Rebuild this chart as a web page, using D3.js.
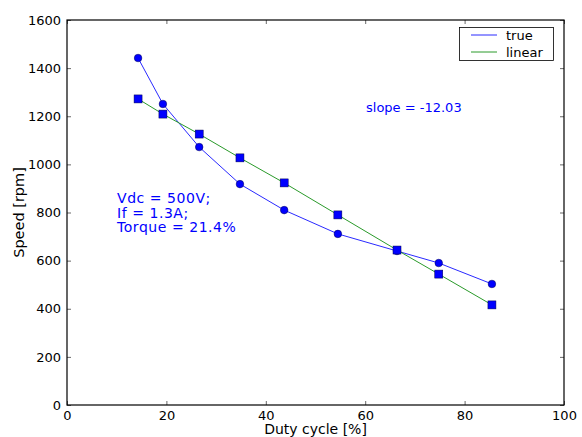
<!DOCTYPE html>
<html><head><meta charset="utf-8">
<script src="https://cdn.jsdelivr.net/npm/d3@7"></script>
<style>body{margin:0;background:#fff}svg{display:block}text{font-family:"DejaVu Sans",sans-serif}</style>
</head><body>
<script>
const duty = [14.3, 19.3, 26.6, 34.8, 43.7, 54.5, 66.4, 74.8, 85.5];
const trueSpeed = [1442, 1251, 1072, 918, 810, 711, 640, 590, 503];
const linearSpeed = [1272, 1209, 1126, 1027, 923, 790, 644, 544, 416];
const xTicks = [0, 20, 40, 60, 80, 100];
const yTicks = [0, 200, 400, 600, 800, 1000, 1200, 1400, 1600];

const W = 582, H = 437;
const L = 67, R = 564, T = 20, B = 405;
const svg = d3.select("body").append("svg").attr("width", W).attr("height", H);
const x = d3.scaleLinear().domain([0, 100]).range([L, R]);
const y = d3.scaleLinear().domain([0, 1600]).range([B, T]);
const fmt = d3.format("d");

const ax = [
  [d3.axisBottom(x).tickValues(xTicks).tickFormat(fmt).tickSizeInner(-4).tickSizeOuter(0).tickPadding(6), `translate(0,${B})`, true],
  [d3.axisTop(x).tickValues(xTicks).tickSizeInner(-4).tickSizeOuter(0), `translate(0,${T})`, false],
  [d3.axisLeft(y).tickValues(yTicks).tickFormat(fmt).tickSizeInner(-4).tickSizeOuter(0).tickPadding(6), `translate(${L},0)`, true],
  [d3.axisRight(y).tickValues(yTicks).tickSizeInner(-4).tickSizeOuter(0), `translate(${R},0)`, false]
];
ax.forEach(([a, tr, lab]) => {
  const g = svg.append("g").attr("transform", tr).call(a);
  g.select(".domain").remove();
  g.selectAll("line").attr("stroke", "#000").attr("stroke-width", 0.6);
  if (!lab) g.selectAll("text").remove();
  else g.selectAll("text").attr("font-size", 13).attr("fill", "#000").attr("font-family", "DejaVu Sans, sans-serif");
});

svg.append("rect").attr("x", L).attr("y", T).attr("width", R - L).attr("height", B - T)
  .attr("fill", "none").attr("stroke", "#000").attr("stroke-width", 1.2);

const line = d3.line().x(d => x(d[0])).y(d => y(d[1]));
const tData = duty.map((d, i) => [d, trueSpeed[i]]);
const lData = duty.map((d, i) => [d, linearSpeed[i]]);

svg.append("path").datum(tData).attr("d", line).attr("fill", "none").attr("stroke", "#2a2aff").attr("stroke-width", 1);
svg.append("path").datum(lData).attr("d", line).attr("fill", "none").attr("stroke", "#2a9a2a").attr("stroke-width", 1);

svg.selectAll(".c").data(tData).enter().append("circle")
  .attr("cx", d => x(d[0])).attr("cy", d => y(d[1])).attr("r", 3.8)
  .attr("fill", "#0000ff").attr("stroke", "#000050").attr("stroke-width", 0.5);
svg.selectAll(".s").data(lData).enter().append("rect")
  .attr("x", d => x(d[0]) - 4).attr("y", d => y(d[1]) - 4).attr("width", 8).attr("height", 8)
  .attr("fill", "#0000ff").attr("stroke", "#000050").attr("stroke-width", 0.5);

const lg = svg.append("g");
lg.append("rect").attr("x", 459.5).attr("y", 27.5).attr("width", 94).attr("height", 33)
  .attr("fill", "#fff").attr("stroke", "#000").attr("stroke-width", 0.8);
[["true", "#2a2aff", 35], ["linear", "#2a9a2a", 52]].forEach(([t, c, yy]) => {
  lg.append("line").attr("x1", 471).attr("x2", 497).attr("y1", yy).attr("y2", yy).attr("stroke", c).attr("stroke-width", 1);
  lg.append("text").attr("x", 506).attr("y", yy + 5).attr("font-size", 13).text(t);
});

svg.append("text").attr("x", 366).attr("y", 112).attr("font-size", 13).attr("fill", "#0000ff").text("slope = -12.03");
const ann = ["Vdc = 500V;", "If = 1.3A;", "Torque = 21.4%"];
ann.forEach((t, i) => {
  svg.append("text").attr("x", 117).attr("y", 203 + i * 14.6).attr("font-size", 14)
    .attr("letter-spacing", 0.55).attr("fill", "#0000ff").text(t);
});

svg.append("text").attr("x", (L + R) / 2).attr("y", 434).attr("text-anchor", "middle").attr("font-size", 14)
  .text("Duty cycle [%]");
svg.append("text").attr("transform", `translate(24,${(T + B) / 2}) rotate(-90)`).attr("text-anchor", "middle").attr("font-size", 14.5).text("Speed [rpm]");
</script>
</body></html>
